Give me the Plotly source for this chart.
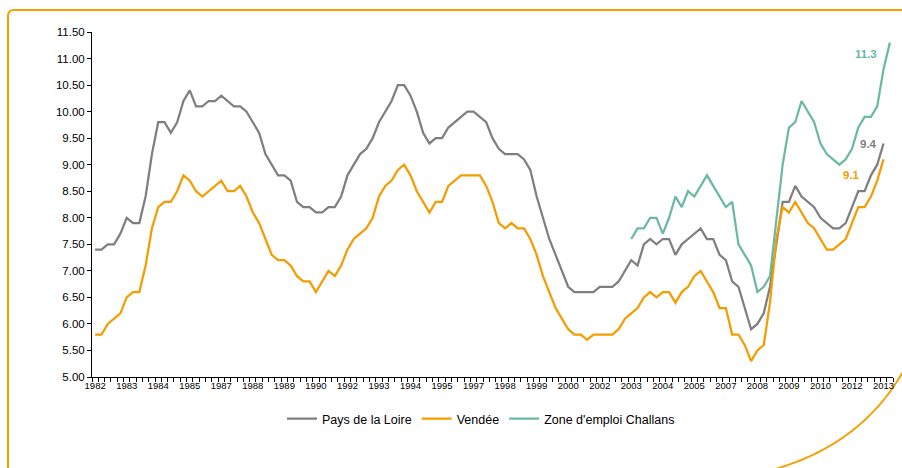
import plotly.graph_objects as go

# ---- data (quarterly, 1982T1 ... 2013T3) ----
start_year = 1982
n_periods = 127
periods = [f"{start_year + i // 4}T{i % 4 + 1}" for i in range(n_periods)]

tick_years = ["1982", "1983", "1984", "1985", "1987", "1988", "1989", "1990", "1992",
              "1993", "1994", "1995", "1997", "1998", "1999", "2000", "2002", "2003",
              "2004", "2005", "2007", "2008", "2009", "2010", "2012", "2013"]

pays_de_la_loire = [
    7.4, 7.4, 7.5, 7.5, 7.7, 8.0, 7.9, 7.9, 8.4, 9.2, 9.8, 9.8, 9.6, 9.8, 10.2, 10.4,
    10.1, 10.1, 10.2, 10.2, 10.3, 10.2, 10.1, 10.1, 10.0, 9.8, 9.6, 9.2, 9.0, 8.8, 8.8, 8.7,
    8.3, 8.2, 8.2, 8.1, 8.1, 8.2, 8.2, 8.4, 8.8, 9.0, 9.2, 9.3, 9.5, 9.8, 10.0, 10.2,
    10.5, 10.5, 10.3, 10.0, 9.6, 9.4, 9.5, 9.5, 9.7, 9.8, 9.9, 10.0, 10.0, 9.9, 9.8, 9.5,
    9.3, 9.2, 9.2, 9.2, 9.1, 8.9, 8.4, 8.0, 7.6, 7.3, 7.0, 6.7, 6.6, 6.6, 6.6, 6.6,
    6.7, 6.7, 6.7, 6.8, 7.0, 7.2, 7.1, 7.5, 7.6, 7.5, 7.6, 7.6, 7.3, 7.5, 7.6, 7.7,
    7.8, 7.6, 7.6, 7.3, 7.2, 6.8, 6.7, 6.3, 5.9, 6.0, 6.2, 6.7, 7.5, 8.3, 8.3, 8.6,
    8.4, 8.3, 8.2, 8.0, 7.9, 7.8, 7.8, 7.9, 8.2, 8.5, 8.5, 8.8, 9.0, 9.4, None,
]

vendee = [
    5.8, 5.8, 6.0, 6.1, 6.2, 6.5, 6.6, 6.6, 7.1, 7.8, 8.2, 8.3, 8.3, 8.5, 8.8, 8.7,
    8.5, 8.4, 8.5, 8.6, 8.7, 8.5, 8.5, 8.6, 8.4, 8.1, 7.9, 7.6, 7.3, 7.2, 7.2, 7.1,
    6.9, 6.8, 6.8, 6.6, 6.8, 7.0, 6.9, 7.1, 7.4, 7.6, 7.7, 7.8, 8.0, 8.4, 8.6, 8.7,
    8.9, 9.0, 8.8, 8.5, 8.3, 8.1, 8.3, 8.3, 8.6, 8.7, 8.8, 8.8, 8.8, 8.8, 8.6, 8.3,
    7.9, 7.8, 7.9, 7.8, 7.8, 7.6, 7.3, 6.9, 6.6, 6.3, 6.1, 5.9, 5.8, 5.8, 5.7, 5.8,
    5.8, 5.8, 5.8, 5.9, 6.1, 6.2, 6.3, 6.5, 6.6, 6.5, 6.6, 6.6, 6.4, 6.6, 6.7, 6.9,
    7.0, 6.8, 6.6, 6.3, 6.3, 5.8, 5.8, 5.6, 5.3, 5.5, 5.6, 6.4, 7.6, 8.2, 8.1, 8.3,
    8.1, 7.9, 7.8, 7.6, 7.4, 7.4, 7.5, 7.6, 7.9, 8.2, 8.2, 8.4, 8.7, 9.1, None,
]

challans = [None] * 85 + [
    7.6, 7.8, 7.8, 8.0, 8.0, 7.7, 8.0, 8.4, 8.2, 8.5, 8.4,
    8.6, 8.8, 8.6, 8.4, 8.2, 8.3, 7.5, 7.3, 7.1, 6.6, 6.7, 6.9, 8.0, 9.0, 9.7, 9.8,
    10.2, 10.0, 9.8, 9.4, 9.2, 9.1, 9.0, 9.1, 9.3, 9.7, 9.9, 9.9, 10.1, 10.8, 11.3,
]

series_names = ["Pays de la Loire", "Vendée", "Zone d'emploi Challans"]
series_values = [pays_de_la_loire, vendee, challans]
series_colors = ["#7F7F7F", "#F59C00", "#6BB8A3"]

# ---- figure ----
W, H = 902, 468
ML, MR, MT, MB = 92, 9, 32, 91
PW, PH = W - ML - MR, H - MT - MB

x_idx = list(range(n_periods))

fig = go.Figure()
for name, vals, col in zip(series_names, series_values, series_colors):
    fig.add_trace(go.Scatter(
        x=x_idx, y=vals, name=name, mode="lines",
        line=dict(color=col, width=2.25),
        connectgaps=False, hoverinfo="skip",
    ))

font_family = "Liberation Sans, Arial, sans-serif"

# end-value labels
def last_point(vals):
    for i in range(len(vals) - 1, -1, -1):
        if vals[i] is not None:
            return i, vals[i]

for vals, col, (dx, dy) in zip([challans, pays_de_la_loire, vendee],
                               [series_colors[2], series_colors[0], series_colors[1]],
                               [(-11, -11), (-5, -1), (-22, -16)]):
    i, v = last_point(vals)
    fig.add_annotation(
        x=i, y=v, text=f"<b>{v:.1f}</b>", showarrow=False,
        xanchor="right", yanchor="middle", xshift=dx, yshift=dy,
        font=dict(family=font_family, size=11.5, color=col),
    )

def px_x(p):
    return (p - ML) / PW

def px_y(p):
    return (H - MB - p) / PH

orange_frame = "#F5A000"
frame_path = (
    f"M {px_x(8)},{px_y(470)} L {px_x(8)},{px_y(16)} "
    f"Q {px_x(8)},{px_y(10)} {px_x(14)},{px_y(10)} L {px_x(904)},{px_y(10)}"
)
fig.add_shape(type="path", path=frame_path, xref="paper", yref="paper",
              line=dict(color=orange_frame, width=2), layer="below")
arc_path = (
    f"M {px_x(772)},{px_y(470)} Q {px_x(862)},{px_y(445)} {px_x(904)},{px_y(370)}"
)
fig.add_shape(type="path", path=arc_path, xref="paper", yref="paper",
              line=dict(color=orange_frame, width=2), layer="below")

fig.update_layout(
    width=W, height=H,
    margin=dict(l=ML, r=MR, t=MT, b=MB),
    paper_bgcolor="white", plot_bgcolor="white",
    font=dict(family=font_family, size=11, color="#000000"),
    showlegend=True,
    legend=dict(
        orientation="h", x=(481 - ML) / PW, xanchor="center", y=-(419 - (H - MB)) / PH,
        yanchor="middle", font=dict(family=font_family, size=12.5, color="#000000"),
        itemwidth=30, tracegroupgap=0, bgcolor="rgba(0,0,0,0)",
    ),
    xaxis=dict(
        range=[-0.5, n_periods - 0.5],
        tickmode="array",
        tickvals=x_idx[::5][:len(tick_years)],
        ticktext=tick_years,
        ticks="", showgrid=False, zeroline=False,
        showline=True, linecolor="#000000", linewidth=1,
        tickfont=dict(family=font_family, size=9.5, color="#000000"),
        minor=dict(tick0=-0.5, dtick=1, ticks="outside", ticklen=4,
                   tickcolor="#000000", tickwidth=1, showgrid=False),
        fixedrange=True,
    ),
    yaxis=dict(
        range=[5, 11.5], tick0=5, dtick=0.5, tickformat=".2f",
        ticks="outside", ticklen=4, tickcolor="#000000",
        showgrid=False, zeroline=False,
        showline=True, linecolor="#000000", linewidth=1,
        tickfont=dict(family=font_family, size=11.5, color="#000000"),
        fixedrange=True,
    ),
)

fig.write_html(
    "out.html",
    config={"displayModeBar": False, "staticPlot": True},
    post_script="document.body.style.margin='0';document.body.style.overflow='hidden';",
)
